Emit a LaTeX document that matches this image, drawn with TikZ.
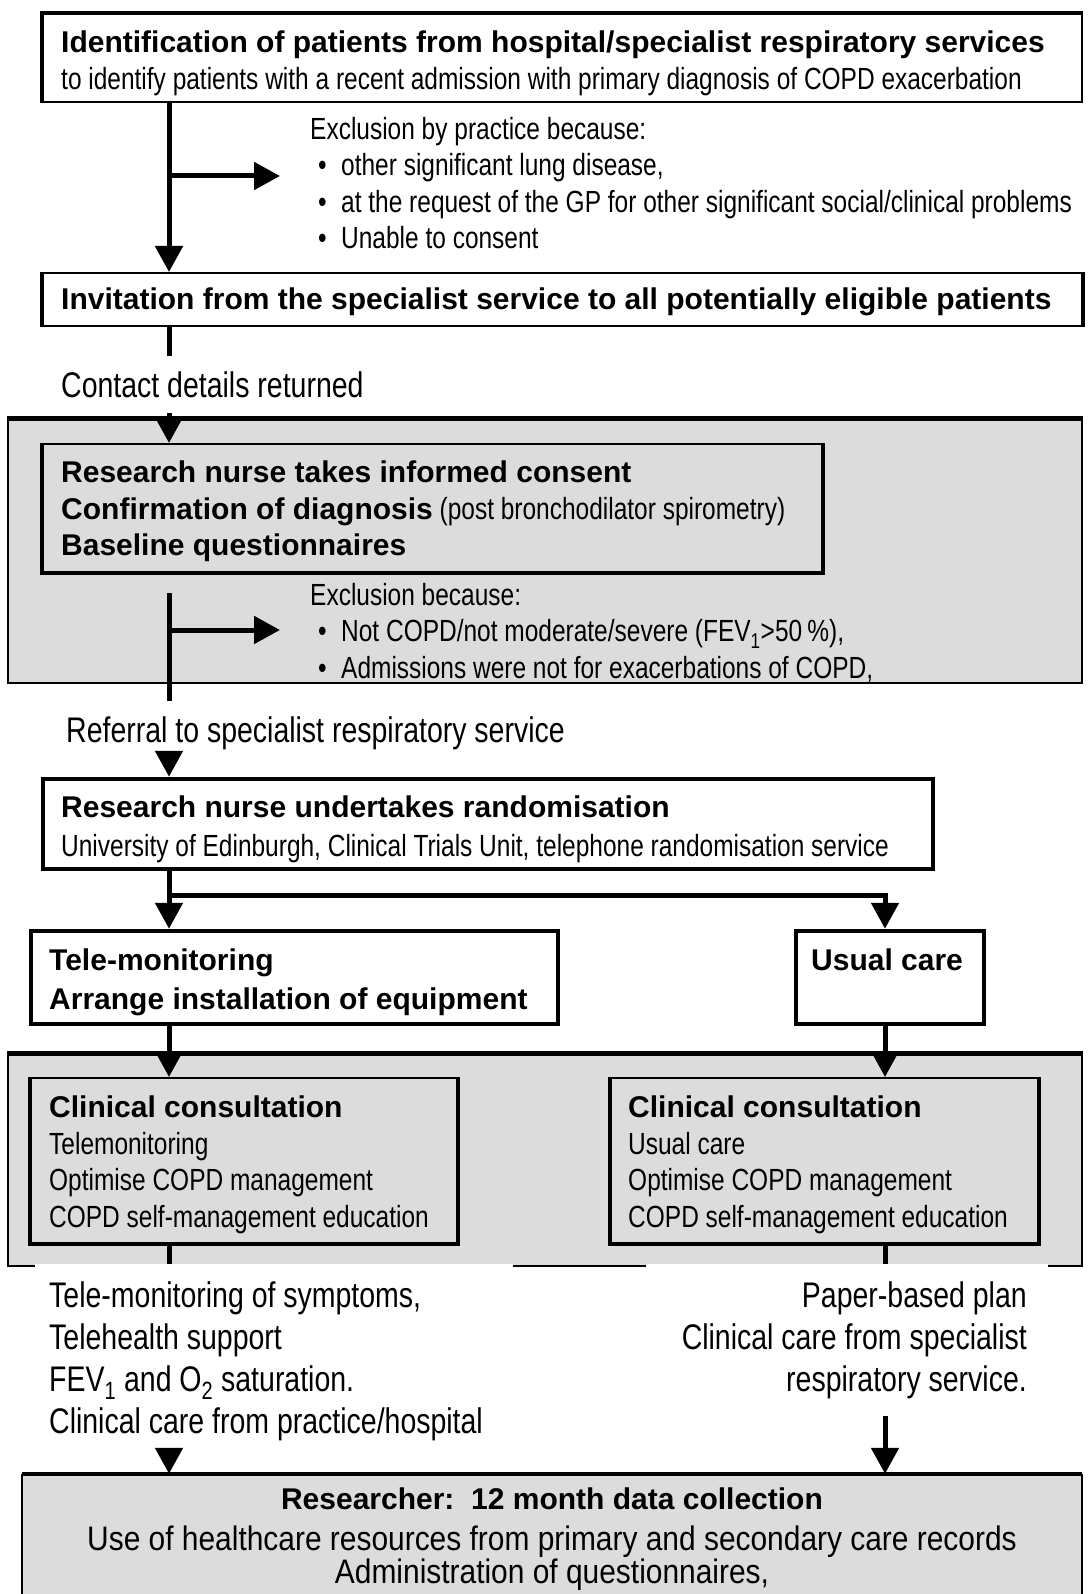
\documentclass[tikz,border=0pt]{standalone}
\usepackage{fontspec}
\setmainfont{Liberation Sans}[FakeStretch=0.8]
\newfontfamily\headfont{Liberation Sans}
\newfontfamily\widefont{Liberation Sans}[FakeStretch=0.88]
\usetikzlibrary{arrows.meta,positioning,fit,calc}
\definecolor{panelgray}{RGB}{220,220,220}
\newcommand\txh{\headfont\bfseries\fontsize{30}{36}\selectfont}
\newcommand\txs{\fontsize{30.6}{36.5}\selectfont}
\newcommand\txl{\fontsize{35.6}{42}\selectfont}
\newcommand\txb{\widefont\fontsize{34}{40}\selectfont}
\newcommand\itembul{\hspace*{8pt}\makebox[23pt][l]{\textbullet}}

\begin{document}
\begin{tikzpicture}[x=1pt, y=-1pt,
		box/.style={draw, line width=2pt, inner sep=0pt},
		boldbox/.style={draw, line width=4.5pt, inner sep=0pt},
		panel/.style={fill=panelgray, draw, line width=1.5pt, inner sep=0pt},
		heavy/.style={line width=4.5pt},
		txt/.style={inner sep=0pt, anchor=north west, align=left, font=\txs},
		note/.style={font=\txl, inner xsep=0pt, inner ysep=15pt, anchor=base west},
		flow/.style={line width=5pt, -{Triangle[width=27pt,length=26pt]}},
		link/.style={line width=5pt}]
			\useasboundingbox (0,0) rectangle (1088,1594);
			\coordinate (spine) at (169,0);
			\coordinate (rspine) at (885,0);
			
			% Grey panels
			\node[panel, fit={(8,419) (1082,683)}] (screen) {};
			\draw[heavy] (screen.north west) -- (screen.north east);
			\node[panel, fit={(8,1054) (1082,1266)}] (treat) {};
			\draw[heavy] (treat.north west) -- (treat.north east);
			\node[fill=panelgray, inner sep=0pt, fit={(22,1474) (1082,1594)}] (collect) {};
			\draw[line width=1.5pt] (collect.south west) -- (collect.north west);
			\draw[line width=1.5pt] (collect.south east) -- (collect.north east);
			\draw[heavy] (collect.north west) -- (collect.north east);
			
			% Boxes
			\node[box, fit={(43,14) (1082,102)}] (ident) {};
			\draw[heavy] (ident.south west) -- (ident.north west) -- (ident.north east);
			\node[box, fit={(43,273) (1082,326)}] (invite) {};
			\draw[heavy] (invite.south west) -- (invite.north west);
			\draw[heavy] (invite.south east) -- (invite.north east);
			\node[box, fit={(43,444) (822,572)}] (consent) {};
			\draw[heavy] (consent.north west) -- (consent.south west) -- (consent.south east) -- (consent.north east);
			\node[boldbox, fit={(43,779) (933,869)}] (random) {};
			\node[boldbox, fit={(31,931) (558,1024)}] (tele) {};
			\node[boldbox, fit={(796,931) (984,1024)}] (usual) {};
			\node[box, fit={(31,1078) (457,1243)}] (consultT) {};
			\draw[heavy] (consultT.north west) -- (consultT.south west) -- (consultT.south east) -- (consultT.north east);
			\node[box, fit={(611,1078) (1038,1243)}] (consultU) {};
			\draw[heavy] (consultU.north west) -- (consultU.south west) -- (consultU.south east) -- (consultU.north east);
			
			% Box texts
			\node[txt] (identText) at (61,31) {{\txh Identification of patients from hospital/specialist respiratory services}\\to identify patients with a recent admission with primary diagnosis of COPD exacerbation};
			\node[txt] (inviteText) at (61,288) {\txh Invitation from the specialist service to all potentially eligible patients};
			\node[txt] (consentText) at (61,461) {{\txh Research nurse takes informed consent}\\{\txh Confirmation of diagnosis} (post bronchodilator spirometry)\\{\txh Baseline questionnaires}};
			\node[txt] (randomText) at (61,796) {{\txh Research nurse undertakes randomisation}\\[2pt]University of Edinburgh, Clinical Trials Unit, telephone randomisation service};
			\node[txt] (teleText) at (49,949) {{\txh Tele-monitoring}\\[2pt]{\txh Arrange installation of equipment}};
			\node[txt] (usualText) at (811,949) {\txh Usual care};
			\node[txt] (consultTText) at (49,1096) {{\txh Clinical consultation}\\Telemonitoring\\Optimise COPD management\\COPD self-management education};
			\node[txt] (consultUText) at (628,1096) {{\txh Clinical consultation}\\Usual care\\Optimise COPD management\\COPD self-management education};
			
			% Exclusions
			\node[txt] (excl1) at (310,117) {Exclusion by practice because:\\\itembul other significant lung disease,\\\itembul at the request of the GP for other significant social/clinical problems\\\itembul Unable to consent};
			\node[txt] (excl2) at (310,583) {Exclusion because:\\\itembul Not COPD/not moderate/severe (FEV\textsubscript{1}>50\,\%),\\\itembul Admissions were not for exacerbations of COPD,};
			
			% Notes between steps
			\node[note] (contact) at (61,397) {Contact details returned};
			\node[note] (referral) at (66,742) {Referral to specialist respiratory service};
			\node[fill=white, anchor=north west, inner xsep=14pt, inner ysep=17pt, text width=450pt, align=flush left, font=\txl] (care) at (35,1264) {Tele-monitoring of symptoms,\\Telehealth support\\FEV\textsubscript{1} and O\textsubscript{2} saturation.\\Clinical care from practice/hospital};
			\node[fill=white, anchor=north east, inner xsep=21pt, inner ysep=17pt, text width=360pt, align=flush right, font=\txl] (plan) at (1048,1264) {Paper-based plan\\Clinical care from specialist\\respiratory service.};
			
			% Data collection
			\node[inner sep=0pt, anchor=north, align=center, font=\txb] (collectText) at (552,1488) {{\txh Researcher:\ \ 12 month data collection}\\[1pt]Use of healthcare resources from primary and secondary care records\\[-7pt]Administration of questionnaires,};
			
			% Connectors
			\draw[flow] (ident.south -| spine) -- (invite.north -| spine);
			\coordinate (fork1) at (169,176);
			\draw[flow, shorten >=30pt] (fork1) -- (fork1 -| excl1.west);
			\draw[link] (invite.south -| spine) -- (contact.north -| spine);
			\draw[flow] (contact.south -| spine) -- (consent.north -| spine);
			\draw[link, shorten <=20pt] (consent.south -| spine) -- (referral.north -| spine);
			\coordinate (fork2) at (169,630);
			\draw[flow, shorten >=30pt] (fork2) -- (fork2 -| excl2.west);
			\draw[flow] (referral.south -| spine) -- (random.north -| spine);
			\draw[flow] (random.south -| spine) -- (tele.north -| spine);
			\coordinate (split) at (169,895);
			\draw[flow] (split) -| (usual.north -| rspine);
			\draw[flow] (tele.south -| spine) -- (consultT.north -| spine);
			\draw[flow] (usual.south -| rspine) -- (consultU.north -| rspine);
			\draw[link] (consultT.south -| spine) -- (care.north -| spine);
			\draw[link] (consultU.south -| rspine) -- (plan.north -| rspine);
			\draw[flow] (care.south -| spine) -- (collect.north -| spine);
			\draw[flow] (plan.south -| rspine) -- (collect.north -| rspine);
		\end{tikzpicture}
\end{document}
